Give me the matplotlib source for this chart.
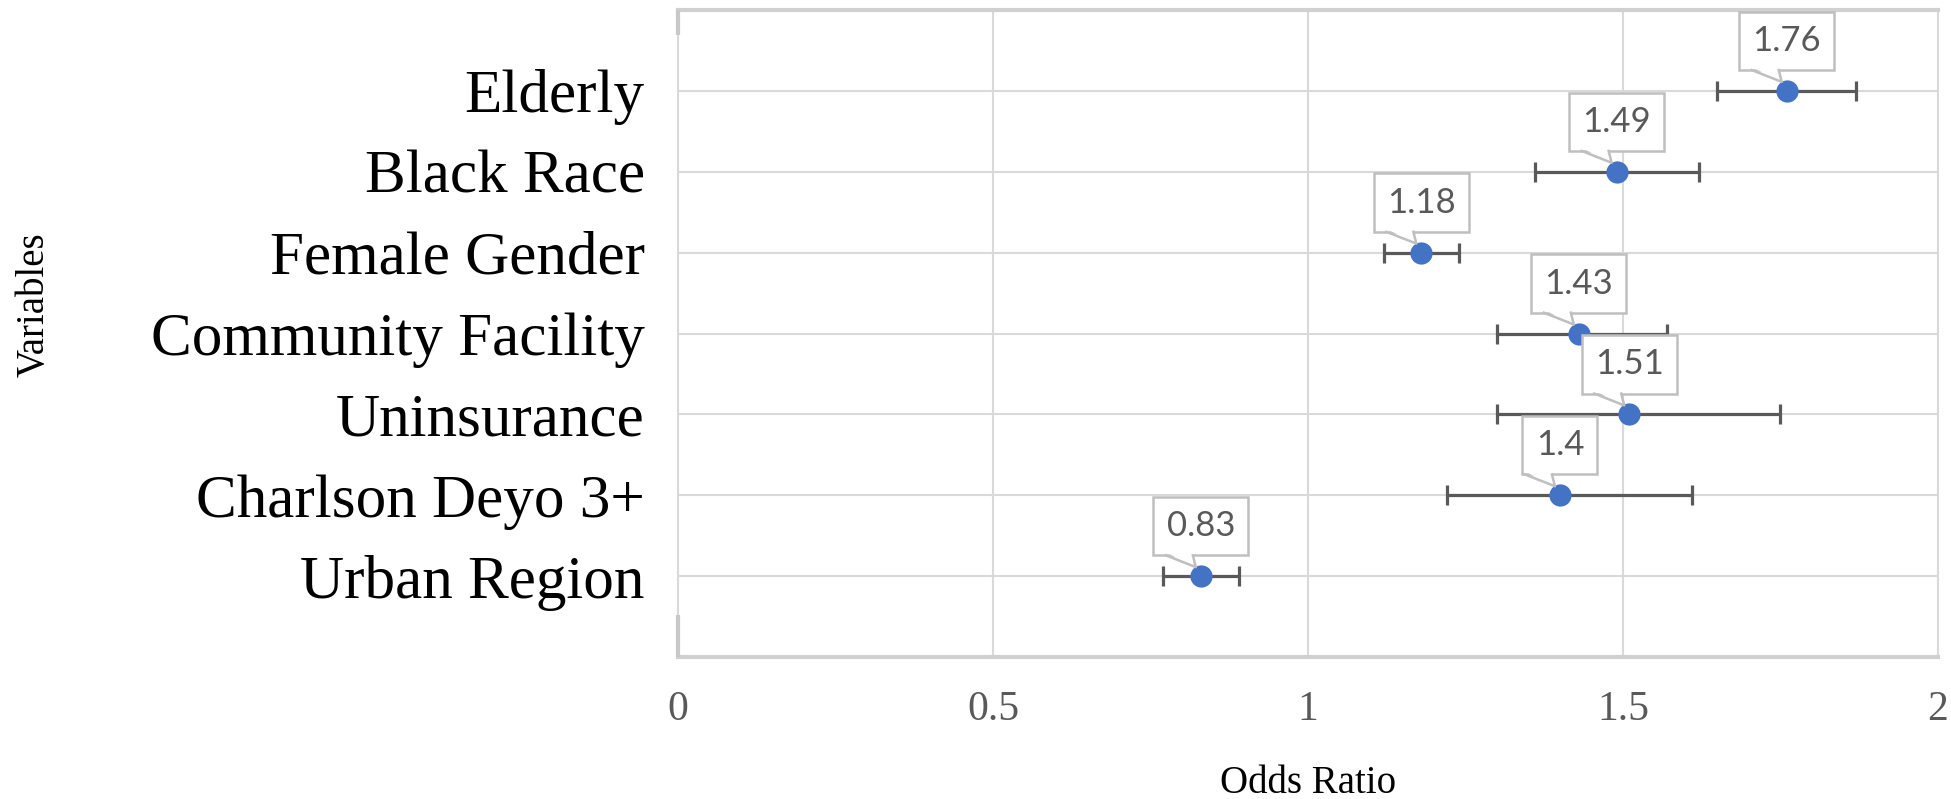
import matplotlib
matplotlib.use("Agg")
import matplotlib.pyplot as plt
from matplotlib.patches import Polygon
from matplotlib.lines import Line2D
from matplotlib.transforms import IdentityTransform

variables = ["Elderly", "Black Race", "Female Gender", "Community Facility",
             "Uninsurance", "Charlson Deyo 3+", "Urban Region"]
odds = [1.76, 1.49, 1.18, 1.43, 1.51, 1.40, 0.83]
ci_low = [1.65, 1.36, 1.12, 1.30, 1.30, 1.22, 0.77]
ci_high = [1.87, 1.62, 1.24, 1.57, 1.75, 1.61, 0.89]
xticks = [0, 0.5, 1, 1.5, 2]
xtick_labels = ["0", "0.5", "1", "1.5", "2"]

ypos = list(range(len(variables), 0, -1))
serif = ["Liberation Serif", "DejaVu Serif"]
grid_col = "#D9D9D9"

fig = plt.figure(figsize=(19.51, 7.99), dpi=100)
ax = fig.add_axes([0.3475, 0.1777, 0.6458, 0.8098])

err_lo = [o - l for o, l in zip(odds, ci_low)]
err_hi = [h - o for o, h in zip(odds, ci_high)]
ax.errorbar(odds, ypos, xerr=[err_lo, err_hi], fmt="none",
            ecolor="#595959", elinewidth=2.3, capsize=7,
            capthick=2.3, zorder=4)
ax.plot(odds, ypos, "o", color="#4472C4", ms=16, mew=0, zorder=5)

ax.set_xlim(0, 2)
ax.set_ylim(0, 8)
ax.set_xticks(xticks)
ax.set_xticklabels(xtick_labels, family=serif, fontsize=30, color="#595959")
ax.set_yticks(ypos)
ax.set_yticklabels(variables, family=serif, fontsize=44, color="black")
ax.tick_params(axis="x", length=0, pad=24)
ax.tick_params(axis="y", length=0, pad=24)
ax.grid(True, color=grid_col, lw=1.5, zorder=0)
ax.set_axisbelow(True)

for s in ["top", "bottom"]:
    ax.spines[s].set_color("#D0D0D0")
    ax.spines[s].set_linewidth(3)
ax.spines["left"].set_color(grid_col)
ax.spines["left"].set_linewidth(1.5)
ax.spines["right"].set_color(grid_col)
ax.spines["right"].set_linewidth(1.5)
# thicker stubs at both ends of the vertical axis
ax.plot([0, 0], [0, 0.065], transform=ax.transAxes, color="#C8C8C8",
        lw=3, clip_on=False, zorder=3, solid_capstyle="butt")
ax.plot([0, 0], [0.961, 1], transform=ax.transAxes, color="#C8C8C8",
        lw=3, clip_on=False, zorder=3, solid_capstyle="butt")

ax.set_xlabel("Odds Ratio", family=serif, fontsize=28, va="center")
ax.xaxis.set_label_coords(0.5, -0.196)
ax.set_ylabel("Variables", family=serif, fontsize=28, va="center")
ax.yaxis.set_label_coords(-0.511, 0.544)

# callout labels
anns = []
for x, y, v in zip(odds, ypos, odds):
    a = ax.annotate(f"{v:g}", (x, y), xytext=(0, 50), textcoords="offset pixels",
                    ha="center", va="center", fontsize=25, family="Lato",
                    color="#595959", zorder=6,
                    bbox=dict(boxstyle="square,pad=0.38", fc="white",
                              ec="#BFBFBF", lw=1.8))
    anns.append(a)

fig.canvas.draw()
for a, x, y in zip(anns, odds, ypos):
    px, py = ax.transData.transform((x, y))
    bb = a.get_bbox_patch().get_window_extent()
    bot = bb.y0
    tip = (px - 5, py + 9)
    fill = Polygon([(px - 35, bot + 3), (px - 8, bot + 3), tip], closed=True,
                   fc="white", ec="none", transform=IdentityTransform(), zorder=6.5)
    ax.add_patch(fill)
    ax.add_line(Line2D([px - 35, tip[0], px - 8], [bot, tip[1], bot],
                       color="#BFBFBF", lw=1.8, transform=IdentityTransform(),
                       zorder=6.6))

fig.savefig("out.png", dpi=100)
